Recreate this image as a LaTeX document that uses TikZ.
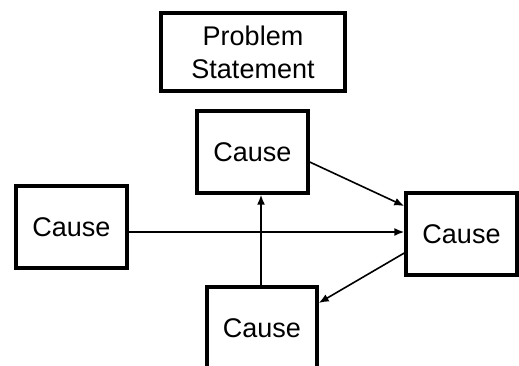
\documentclass[tikz,border=0pt]{standalone}
\usepackage{fontspec}
\setmainfont{Liberation Sans}
\usetikzlibrary{arrows.meta}
\begin{document}
\begin{tikzpicture}[x=1pt,y=-1pt,
  box/.style={draw,line width=3.4pt,inner sep=0pt,font=\fontsize{27}{33}\selectfont,align=center},
  conn/.style={line width=1.6pt,-{Latex[length=10pt,width=8pt]}}]
\useasboundingbox (0,0) rectangle (519,365);
\node[box,minimum width=184pt,minimum height=78pt] (ps) at (253,52) {Problem\\Statement};
\node[box,minimum width=111pt,minimum height=82pt] (ct) at (252.5,152) {Cause};
\node[box,minimum width=111pt,minimum height=82pt] (cl) at (71.5,227) {Cause};
\node[box,minimum width=111pt,minimum height=82pt] (cr) at (461.5,234) {Cause};
\node[box,minimum width=110pt,minimum height=82pt] (cb) at (262,328) {Cause};
\draw[conn] (cl.east |- 0,232) -- (cr.west |- 0,232);
\draw[conn] (cb.north -| 261,0) -- (ct.south -| 261,0);
\draw[conn] (ct.east |- 0,162) -- (cr.west |- 0,206);
\draw[conn] (cr.west |- 0,253) -- (cb.east |- 0,303);
\end{tikzpicture}
\end{document}
